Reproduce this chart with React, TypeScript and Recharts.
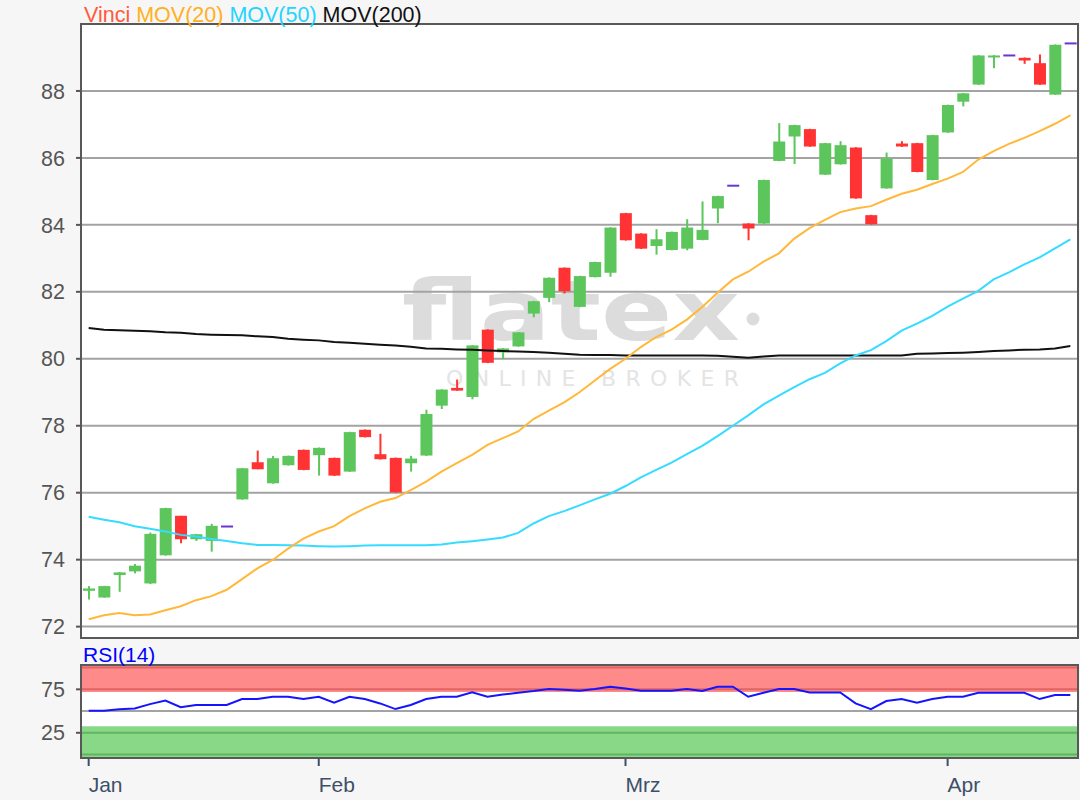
import React from 'react';
import { ComposedChart, Bar, Line, XAxis, YAxis, CartesianGrid, ReferenceArea, ReferenceLine } from 'recharts';

// trading days, Jan 11 - Apr 11 2019
const dates = [
  '2019-01-11', '2019-01-14', '2019-01-15', '2019-01-16', '2019-01-17', '2019-01-18',
  '2019-01-21', '2019-01-22', '2019-01-23', '2019-01-24', '2019-01-25',
  '2019-01-28', '2019-01-29', '2019-01-30', '2019-01-31',
  '2019-02-01', '2019-02-04', '2019-02-05', '2019-02-06', '2019-02-07', '2019-02-08',
  '2019-02-11', '2019-02-12', '2019-02-13', '2019-02-14', '2019-02-15',
  '2019-02-18', '2019-02-19', '2019-02-20', '2019-02-21', '2019-02-22',
  '2019-02-25', '2019-02-26', '2019-02-27', '2019-02-28',
  '2019-03-01', '2019-03-04', '2019-03-05', '2019-03-06', '2019-03-07', '2019-03-08',
  '2019-03-11', '2019-03-12', '2019-03-13', '2019-03-14', '2019-03-15',
  '2019-03-18', '2019-03-19', '2019-03-20', '2019-03-21', '2019-03-22',
  '2019-03-25', '2019-03-26', '2019-03-27', '2019-03-28', '2019-03-29',
  '2019-04-01', '2019-04-02', '2019-04-03', '2019-04-04', '2019-04-05',
  '2019-04-08', '2019-04-09', '2019-04-10', '2019-04-11',
];

const open = [
  73.07, 72.87, 73.54, 73.65, 73.29, 74.13, 75.31, 74.61, 74.56, 74.99,
  75.80, 76.91, 76.28, 76.82, 77.28, 77.12, 77.04, 76.63, 77.88, 77.15,
  77.04, 76.88, 77.11, 78.60, 79.13, 78.86, 80.87, 80.19, 80.37, 81.35,
  81.82, 82.72, 81.55, 82.44, 82.57, 84.35, 83.74, 83.37, 83.25, 83.29,
  83.55, 84.49, 85.17, 84.04, 84.04, 85.91, 86.64, 86.86, 85.50, 85.81,
  86.31, 84.29, 85.09, 86.43, 86.44, 85.34, 86.76, 87.68, 88.19, 89.01,
  89.06, 88.99, 88.83, 87.89, 89.42,
];
const high = [
  73.21, 73.22, 73.63, 73.87, 74.81, 75.55, 75.31, 74.77, 75.07, 74.99,
  76.74, 77.26, 77.10, 77.11, 77.29, 77.35, 77.05, 77.82, 77.89, 77.76,
  77.05, 77.10, 78.48, 79.09, 79.38, 80.41, 80.88, 80.32, 80.80, 81.73,
  82.43, 82.73, 82.48, 82.90, 83.93, 84.36, 83.75, 83.87, 83.80, 84.17,
  84.70, 84.87, 85.17, 84.05, 85.35, 87.04, 86.99, 86.87, 86.45, 86.50,
  86.32, 84.30, 86.16, 86.50, 86.45, 86.69, 87.59, 87.94, 89.07, 89.07,
  89.06, 89.00, 89.09, 89.39, 89.42,
];
const low = [
  72.81, 72.86, 73.04, 73.59, 73.27, 74.12, 74.49, 74.56, 74.24, 74.99,
  75.79, 76.70, 76.27, 76.81, 76.67, 76.51, 76.50, 76.62, 77.65, 76.99,
  76.00, 76.63, 77.10, 78.50, 79.04, 78.79, 79.87, 79.99, 80.36, 81.24,
  81.69, 81.95, 81.54, 82.43, 82.45, 83.53, 83.28, 83.11, 83.24, 83.24,
  83.54, 84.05, 85.17, 83.54, 84.03, 85.90, 85.82, 86.33, 85.49, 85.80,
  84.78, 84.01, 85.08, 86.33, 85.57, 85.33, 86.75, 87.54, 88.18, 88.68,
  89.06, 88.81, 88.18, 87.88, 89.42,
];
const close = [
  73.14, 73.21, 73.62, 73.82, 74.77, 75.54, 74.61, 74.76, 75.01, 74.99,
  76.73, 76.70, 77.03, 77.10, 76.68, 77.34, 76.51, 77.81, 77.66, 77.00,
  76.01, 77.02, 78.35, 79.08, 79.05, 80.40, 79.88, 80.31, 80.79, 81.72,
  82.42, 82.02, 82.47, 82.89, 83.92, 83.54, 83.29, 83.57, 83.79, 83.92,
  83.85, 84.86, 85.17, 83.89, 85.34, 86.49, 86.98, 86.34, 86.44, 86.38,
  84.79, 84.02, 85.98, 86.34, 85.58, 86.68, 87.58, 87.93, 89.06, 89.06,
  89.06, 88.91, 88.19, 89.38, 89.42,
];

const mov20 = [
  72.22, 72.34, 72.41, 72.34, 72.36, 72.49, 72.61, 72.79, 72.91, 73.10,
  73.42, 73.74, 73.99, 74.33, 74.63, 74.84, 75.00, 75.30, 75.53, 75.73,
  75.84, 76.08, 76.33, 76.63, 76.88, 77.13, 77.43, 77.63, 77.83, 78.20,
  78.45, 78.70, 79.00, 79.35, 79.70, 80.00, 80.35, 80.65, 80.87, 81.17,
  81.55, 81.97, 82.37, 82.60, 82.90, 83.15, 83.59, 83.90, 84.15, 84.38,
  84.49, 84.56, 84.75, 84.93, 85.05, 85.22, 85.38, 85.58, 85.95, 86.20,
  86.42, 86.60, 86.80, 87.02, 87.27,
];
const mov50 = [
  75.28, 75.19, 75.12, 75.00, 74.92, 74.84, 74.74, 74.69, 74.62, 74.56,
  74.49, 74.44, 74.44, 74.43, 74.42, 74.40, 74.39, 74.40, 74.42, 74.43,
  74.43, 74.43, 74.43, 74.45, 74.51, 74.55, 74.60, 74.66, 74.80, 75.08,
  75.30, 75.45, 75.62, 75.80, 75.97, 76.20, 76.46, 76.68, 76.90, 77.15,
  77.40, 77.69, 78.00, 78.31, 78.64, 78.90, 79.15, 79.39, 79.58, 79.86,
  80.10, 80.26, 80.53, 80.84, 81.05, 81.28, 81.56, 81.80, 82.03, 82.37,
  82.58, 82.82, 83.03, 83.30, 83.57,
];
const mov200 = [
  80.92, 80.87, 80.85, 80.84, 80.82, 80.79, 80.78, 80.74, 80.72, 80.71,
  80.70, 80.67, 80.65, 80.60, 80.57, 80.55, 80.50, 80.48, 80.45, 80.42,
  80.40, 80.36, 80.31, 80.30, 80.28, 80.27, 80.25, 80.23, 80.22, 80.20,
  80.18, 80.15, 80.12, 80.11, 80.11, 80.10, 80.10, 80.10, 80.10, 80.10,
  80.10, 80.09, 80.06, 80.03, 80.07, 80.10, 80.10, 80.10, 80.10, 80.10,
  80.10, 80.10, 80.10, 80.10, 80.15, 80.16, 80.17, 80.18, 80.20, 80.23,
  80.25, 80.27, 80.28, 80.31, 80.38,
];
const rsi = [
  50.3, 50.3, 52, 53, 58, 62, 54.5, 57, 57, 57,
  63.8, 63.8, 66.5, 66.5, 63.8, 66.5, 59.6, 66.5, 63.8, 58.8,
  52.3, 57, 63.8, 66.5, 66.5, 71.5, 66.5, 69, 71, 73,
  75.5, 74.5, 73.4, 75.5, 78, 76, 73.4, 73.4, 73.4, 75.3,
  73, 78, 78, 66.5, 71, 75.3, 75.3, 71.5, 71.5, 71.5,
  58.8, 52.3, 61.5, 63.8, 59.6, 63.8, 66.5, 66.5, 71, 71,
  71, 71, 63.8, 68.4, 68.4,
];

const monthTicks = ['2019-01-11', '2019-02-01', '2019-03-01', '2019-04-01'];
const monthLabels = ['Jan', 'Feb', 'Mrz', 'Apr'];
const priceTicks = [72, 74, 76, 78, 80, 82, 84, 86, 88];
const rsiTicks = [25, 75];

const rows = dates.map((date, i) => ({
  date,
  open: open[i],
  high: high[i],
  low: low[i],
  close: close[i],
  mov20: mov20[i],
  mov50: mov50[i],
  mov200: mov200[i],
  rsi: rsi[i],
}));

const FONT = '"Liberation Sans", Arial, sans-serif';
const UP = '#5cc65c';
const DOWN = '#ff3333';
const DOJI = '#6a35d0';

const Candle = (props: any) => {
  const { x, y, width, height, payload } = props;
  const cx = x + width / 2;
  const top = Math.min(y, y + height);
  const h = payload.high;
  const l = payload.low;
  if (h === l) {
    return <rect x={cx - 6} y={top - 1} width={12} height={2} fill={DOJI} />;
  }
  const k = Math.abs(height) / (h - l);
  const yOf = (v: number) => top + (h - v) * k;
  const up = payload.close >= payload.open;
  const color = up ? UP : DOWN;
  const bTop = yOf(Math.max(payload.open, payload.close));
  const bBot = yOf(Math.min(payload.open, payload.close));
  return (
    <g>
      <rect x={cx - 1} y={yOf(h)} width={2} height={yOf(l) - yOf(h)} fill={color} />
      <rect x={cx - 6} y={bTop} width={12} height={Math.max(2, bBot - bTop)} fill={color} />
    </g>
  );
};

const MonthTick = (props: any) => {
  const { x, payload } = props;
  const idx = monthTicks.indexOf(payload.value);
  return (
    <text x={x} y={152} fill="#3d5068" fontSize={21} fontFamily={FONT} textAnchor="start">
      {monthLabels[idx]}
    </text>
  );
};

export default function App() {
  const yTick = { fill: '#555', fontSize: 21.5, fontFamily: FONT };
  return (
    <div style={{ position: 'absolute', left: 0, top: 0, width: 1080, height: 800, background: '#f6f6f6', overflow: 'hidden', fontFamily: FONT }}>
      <div style={{ position: 'absolute', left: 80, top: 23, width: 999, height: 616, background: '#fff' }} />
      <div style={{ position: 'absolute', left: 80, top: 664, width: 999, height: 95, background: '#fff' }} />

      {/* watermark */}
      <svg width={1080} height={800} style={{ position: 'absolute', left: 0, top: 0 }}>
        <text x={402} y={340} fontSize={84} fontWeight={700} fill="#dcdcdc" fontFamily='"DejaVu Sans", sans-serif' textLength={338} lengthAdjust="spacingAndGlyphs">flatex</text>
        <circle cx={753} cy={319} r={6.5} fill="#dcdcdc" />
        <text x={446} y={386} fontSize={22} fill="#e4e4e4" fontFamily='"DejaVu Sans", sans-serif' textLength={293} lengthAdjust="spacing">ONLINE BROKER</text>
      </svg>

      <div style={{ position: 'absolute', left: 0, top: 0 }}>
        <ComposedChart width={1080} height={650} data={rows} margin={{ top: 24, right: 2, bottom: 12, left: 0 }}>
          <CartesianGrid vertical={false} stroke="#a3a3a3" strokeWidth={2} />
          <XAxis dataKey="date" hide scale="band" />
          <YAxis
            domain={[71.66, 90]}
            ticks={priceTicks}
            allowDataOverflow
            width={81}
            axisLine={false}
            tickSize={5}
            tickMargin={11}
            tickLine={{ stroke: '#555', strokeWidth: 2 }}
            tick={yTick}
          />
          <Bar dataKey={(d: any) => [d.low, d.high]} shape={<Candle />} barSize={12} isAnimationActive={false} />
          <Line dataKey="mov200" stroke="#111" strokeWidth={2} dot={false} isAnimationActive={false} />
          <Line dataKey="mov50" stroke="#35dcff" strokeWidth={2} dot={false} isAnimationActive={false} />
          <Line dataKey="mov20" stroke="#ffb83a" strokeWidth={2} dot={false} isAnimationActive={false} />
        </ComposedChart>
      </div>

      <div style={{ position: 'absolute', left: 0, top: 640 }}>
        <ComposedChart width={1080} height={160} data={rows} margin={{ top: 25, right: 2, bottom: 0, left: 0 }}>
          <XAxis
            dataKey="date"
            scale="band"
            ticks={monthTicks}
            interval={0}
            height={42}
            axisLine={false}
            tickSize={8}
            tickLine={{ stroke: '#3d5068', strokeWidth: 2 }}
            tick={<MonthTick />}
          />
          <YAxis
            domain={[-4, 103]}
            ticks={rsiTicks}
            allowDataOverflow
            width={81}
            axisLine={false}
            tickSize={5}
            tickMargin={11}
            tickLine={{ stroke: '#555', strokeWidth: 2 }}
            tick={yTick}
          />
          <ReferenceArea y1={72} y2={103} fill="#ff8a8a" fillOpacity={1} stroke="none" />
          <ReferenceArea y1={-4} y2={32.5} fill="#88d888" fillOpacity={1} stroke="none" />
          <ReferenceLine y={100} stroke="#e06464" strokeWidth={2} />
          <ReferenceLine y={75} stroke="#e06464" strokeWidth={2} />
          <ReferenceLine y={25} stroke="#5fb65f" strokeWidth={2} />
          <ReferenceLine y={0} stroke="#5fb65f" strokeWidth={2} />
          <ReferenceLine y={50} stroke="#a3a3a3" strokeWidth={2} />
          <Line dataKey="rsi" stroke="#1414ff" strokeWidth={2} dot={false} isAnimationActive={false} />
        </ComposedChart>
      </div>

      {/* frames */}
      <div style={{ position: 'absolute', left: 80, top: 23, width: 999, height: 616, border: '2px solid #585858', boxSizing: 'border-box' }} />
      <div style={{ position: 'absolute', left: 80, top: 664, width: 999, height: 95, border: '2px solid #585858', boxSizing: 'border-box' }} />

      {/* legend and panel title */}
      <svg width={1080} height={800} style={{ position: 'absolute', left: 0, top: 0, pointerEvents: 'none' }}>
        <text x={84} y={21.5} fontSize={21.5} fontFamily={FONT} style={{ whiteSpace: 'pre' }}>
          <tspan fill="#ff5a3c">Vinci </tspan>
          <tspan fill="#ffb020">MOV(20) </tspan>
          <tspan fill="#22d4ff">MOV(50) </tspan>
          <tspan fill="#111">MOV(200)</tspan>
        </text>
        <text x={83} y={661.5} fontSize={21} fontFamily={FONT} fill="#0000ff">RSI(14)</text>
      </svg>
    </div>
  );
}
